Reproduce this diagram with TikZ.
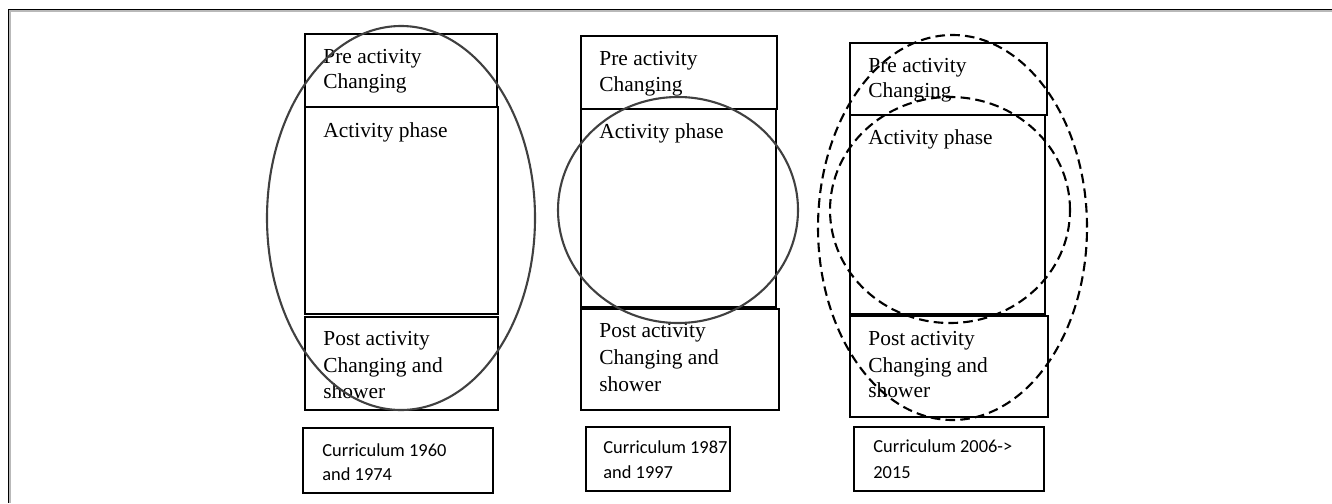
\documentclass[tikz,border=0pt]{standalone}
\usepackage{fontspec}
\setmainfont{Liberation Serif}
\newfontfamily\calib{Carlito}
\usetikzlibrary{fit,shapes.geometric}
\definecolor{ringgray}{HTML}{404040}
\begin{document}
\begin{tikzpicture}[x=0.5pt,y=-0.5pt,
  phase/.style={draw=black, line width=0.65pt, inner sep=0pt, outer sep=0pt},
  ptext/.style={anchor=base west, inner sep=0pt, font=\fontsize{10.7}{12}\selectfont},
  ctext/.style={anchor=base west, inner sep=0pt, font=\calib\fontsize{9.2}{11}\selectfont},
  ring/.style={ellipse, inner sep=0pt, outer sep=0pt, line width=1.05pt},
  solidring/.style={ring, draw=ringgray},
  dashring/.style={ring, draw=black, dash pattern=on 4.8pt off 2.6pt}]
\useasboundingbox (0,0) rectangle (1332,503);
% frame
\coordinate (fTL) at (8.5,9.5);
\coordinate (fTR) at (1332,9.5);
\coordinate (fBL) at (8.5,503);
\coordinate (sTL) at (9.9,10.9);
\coordinate (sTR) at (1332,10.9);
\coordinate (sBL) at (9.9,503);
\draw[gray!55, line width=0.6pt] (sTR) -- (sTL) -- (sBL);
\draw[black, line width=0.6pt] (fTR) -- (fTL) -- (fBL);
% column A
\node[phase, fit={(305,34) (497,107)}] (preA) {};
\node[phase, fit={(305,107) (498,314)}] (actA) {};
\node[phase, fit={(305,317) (498,410)}] (postA) {};
\node[ptext] (tA1) at (323,63) {Pre activity};
\node[ptext] (tA2) at (323,88) {Changing};
\node[ptext] (tA3) at (323,137) {Activity phase};
\node[ptext] (tA4) at (323,345) {Post activity};
\node[ptext] (tA5) at (323,372) {Changing and};
\node[ptext] (tA6) at (323,398) {shower};
% column B
\node[phase, fit={(581,36) (777,109)}] (preB) {};
\node[phase, fit={(581,109) (776,307)}] (actB) {};
\node[phase, fit={(581,309) (779,410)}] (postB) {};
\node[ptext] (tB1) at (599,65) {Pre activity};
\node[ptext] (tB2) at (599,91) {Changing};
\node[ptext] (tB3) at (599,138) {Activity phase};
\node[ptext] (tB4) at (599,337) {Post activity};
\node[ptext] (tB5) at (599,364) {Changing and};
\node[ptext] (tB6) at (599,391) {shower};
% column C
\node[phase, fit={(850,43) (1047,115)}] (preC) {};
\node[phase, fit={(850,115) (1045,314)}] (actC) {};
\node[phase, fit={(850,316) (1048,417)}] (postC) {};
\node[ptext] (tC1) at (868,72) {Pre activity};
\node[ptext] (tC2) at (868,97) {Changing};
\node[ptext] (tC3) at (868,144) {Activity phase};
\node[ptext] (tC4) at (868,345) {Post activity};
\node[ptext] (tC5) at (868,372) {Changing and};
\node[ptext] (tC6) at (868,397) {shower};
% curriculum labels
\node[phase, fit={(303,428) (493,493)}] (curA) {};
\node[ctext] (cA1) at (322,456) {Curriculum 1960};
\node[ctext] (cA2) at (322,480) {and 1974};
\node[phase, fit={(586,427) (730,491)}] (curB) {};
\node[ctext] (cB1) at (603,453) {Curriculum 1987};
\node[ctext] (cB2) at (603,478) {and 1997};
\node[phase, fit={(854,427) (1044,491)}] (curC) {};
\node[ctext] (cC1) at (873,452) {Curriculum 2006->};
\node[ctext] (cC2) at (873,478) {2015};
% rings
\node[solidring, minimum width=134pt, minimum height=192pt] (ringA) at (401,218) {};
\node[solidring, minimum width=120pt, minimum height=113pt] (ringB) at (678,210) {};
\node[dashring, minimum width=134.5pt, minimum height=192.5pt] (ringC) at (952.5,227.5) {};
\node[dashring, minimum width=120pt, minimum height=113pt] (ringCi) at (950,210) {};
\end{tikzpicture}
\end{document}
